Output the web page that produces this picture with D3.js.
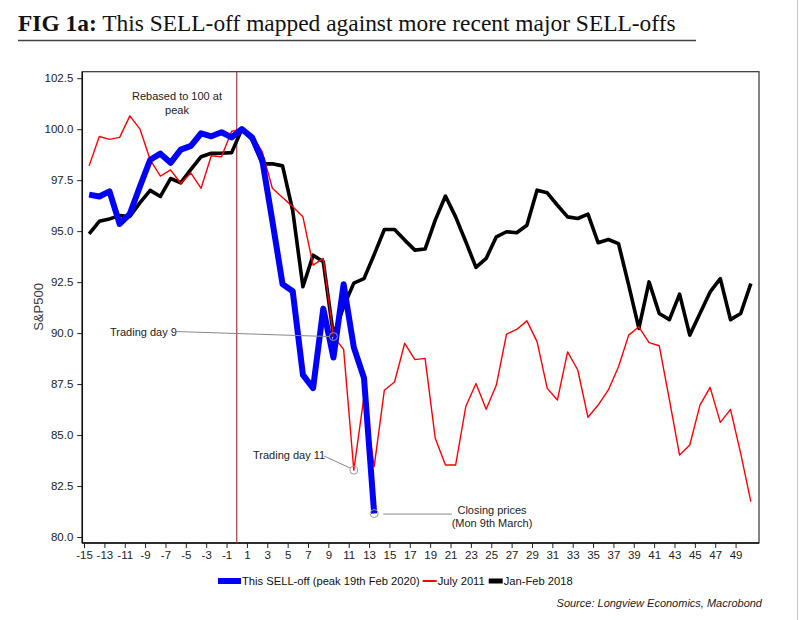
<!DOCTYPE html>
<html><head><meta charset="utf-8">
<script src="https://cdn.jsdelivr.net/npm/d3@7"></script>
<style>body{margin:0;background:#fff}</style>
</head><body><svg id="c" width="800" height="620"></svg>
<script>
// ---- data ----
const firstDay = -15;
const blueValues = [96.79,96.7,96.95,95.35,95.85,97.2,98.5,98.8,98.35,99.0,99.18,99.8,99.65,99.85,99.6,
  100.0,99.6,98.5,95.5,92.4,92.05,87.95,87.3,91.2,88.8,92.4,89.3,87.8,81.15];
const redValues = [98.2,99.64,99.5,99.6,100.65,100.0,98.5,97.7,98.0,97.35,97.85,97.1,98.7,98.65,99.9,
  100.0,99.7,98.9,97.1,96.65,96.2,95.7,93.33,93.66,89.83,89.2,83.28,86.9,83.45,87.2,87.6,89.5,88.7,88.76,
  84.84,83.53,83.53,86.4,87.53,86.26,87.45,89.95,90.18,90.6,89.58,87.29,86.72,89.08,88.19,85.87,86.47,
  87.21,88.35,89.9,90.31,89.53,89.38,86.72,84.02,84.51,86.47,87.34,85.62,86.26,84.1,81.73];
const blackValues = [94.87,95.48,95.6,95.76,95.72,96.4,97.0,96.7,97.58,97.37,98.03,98.65,98.82,98.82,98.85,
  100.0,99.5,98.3,98.3,98.2,96.0,92.27,93.82,93.5,89.9,91.3,92.45,92.67,93.85,95.08,95.08,94.56,94.07,94.12,
  95.54,96.72,95.7,94.48,93.22,93.66,94.72,94.97,94.92,95.29,97.01,96.88,96.27,95.7,95.62,95.83,94.43,
  94.59,94.39,92.35,90.23,92.51,90.96,90.66,91.91,89.9,90.96,92.02,92.67,90.66,90.96,92.43];
const xTickValues = [-15,-13,-11,-9,-7,-5,-3,-1,1,3,5,7,9,11,13,15,17,19,21,23,25,27,29,31,33,35,37,39,41,43,45,47,49];
const yTickValues = [80,82.5,85,87.5,90,92.5,95,97.5,100,102.5];
const seriesNames = ["This SELL-off (peak 19th Feb 2020)","July 2011","Jan-Feb 2018"];
const peakDay = 0;

// ---- layout ----
const svg = d3.select("#c");
const FONT = "Liberation Sans, Arial, Helvetica, sans-serif";
svg.append("rect").attr("width",800).attr("height",620).attr("fill","#fff");
svg.append("line").attr("x1",797.5).attr("x2",797.5).attr("y1",0).attr("y2",620).attr("stroke","#c8c8c8");

// title
const title = svg.append("text").attr("x",18).attr("y",31)
  .attr("font-family","Liberation Serif, DejaVu Serif, serif").attr("font-size",23).attr("fill","#111");
title.append("tspan").attr("font-weight","bold").text("FIG 1a:");
title.append("tspan").text(" This SELL-off mapped against more recent major SELL-offs");
const tl = title.node().getComputedTextLength();
title.attr("font-size", 23*658/tl);
svg.append("line").attr("x1",18).attr("x2",696).attr("y1",40.5).attr("y2",40.5)
  .attr("stroke","#444").attr("stroke-width",1.5);

const L=82.3, R=759, T=71.7, B=543;
const x = d3.scaleLinear().domain([-15.17,51.3]).range([L,R]);
const y = d3.scaleLinear().domain([80,102.5]).range([537,78.2]);
const shift = 0.5; // points drawn half a step right of tick

// axes
const ya = svg.append("g").attr("transform",`translate(${L},0)`)
  .call(d3.axisLeft(y).tickValues(yTickValues).tickFormat(d3.format(".1f")).tickSize(5).tickPadding(4).tickSizeOuter(0));
const xa = svg.append("g").attr("transform",`translate(0,${B})`)
  .call(d3.axisBottom(x).tickValues(xTickValues).tickFormat(d=>String(d)).tickSize(5).tickPadding(3).tickSizeOuter(0));
[ya,xa].forEach(g=>{
  g.select(".domain").remove();
  g.selectAll(".tick line").attr("stroke","#222");
  g.selectAll(".tick text").attr("font-family",FONT).attr("font-size",11.5).attr("fill","#222");
});

// frame
svg.append("rect").attr("x",L).attr("y",T).attr("width",R-L).attr("height",B-T)
  .attr("fill","none").attr("stroke","#333").attr("stroke-width",1.2);
svg.append("line").attr("x1",L).attr("x2",L).attr("y1",T).attr("y2",B).attr("stroke","#111").attr("stroke-width",1.5);
svg.append("line").attr("x1",L).attr("x2",R).attr("y1",B).attr("y2",B).attr("stroke","#111").attr("stroke-width",1.5);

// peak line
svg.append("line").attr("x1",x(peakDay)).attr("x2",x(peakDay)).attr("y1",T).attr("y2",B)
  .attr("stroke","#a83a3a").attr("stroke-width",1.2);

// y label
svg.append("text").attr("transform","translate(38,307) rotate(-90)").attr("text-anchor","middle")
  .attr("dominant-baseline","central").attr("font-family",FONT).attr("font-size",13).attr("fill","#3a3a48").text("S&P500");

// lines
const mk = vals => d3.line().x((v,i)=>x(firstDay+i+shift)).y(v=>y(v))(vals);
svg.append("path").attr("d",mk(blackValues)).attr("fill","none").attr("stroke","#000").attr("stroke-width",3.6).attr("stroke-linejoin","round");
svg.append("path").attr("d",mk(redValues)).attr("fill","none").attr("stroke","#f00").attr("stroke-width",1.4).attr("stroke-linejoin","round");
svg.append("path").attr("d",mk(blueValues)).attr("fill","none").attr("stroke","#0000ff").attr("stroke-width",6).attr("stroke-linejoin","round");

// annotations
const ann = (tx,ty,txt,anchor)=>svg.append("text").attr("x",tx).attr("y",ty).attr("text-anchor",anchor||"start")
  .attr("font-family",FONT).attr("font-size",11).attr("fill","#222").text(txt);
ann(177,100,"Rebased to 100 at","middle");
ann(177,114,"peak","middle");

const c9 = [x(9+shift), y(redValues[9-firstDay])];
const c11 = [x(11+shift), y(redValues[11-firstDay])];
const c13 = [x(13+shift), y(blueValues[13-firstDay])];
ann(110,335.5,"Trading day 9");
svg.append("line").attr("x1",175).attr("y1",331.5).attr("x2",c9[0]-4).attr("y2",c9[1]).attr("stroke","#888");
ann(253,459,"Trading day 11");
svg.append("line").attr("x1",324).attr("y1",456).attr("x2",c11[0]-3.5).attr("y2",c11[1]-2).attr("stroke","#888");
svg.append("line").attr("x1",c13[0]+9).attr("y1",c13[1]+0.5).attr("x2",452).attr("y2",c13[1]+0.5).attr("stroke","#888");
ann(492,514,"Closing prices","middle");
ann(492,527,"(Mon 9th March)","middle");
[c9,c11,c13].forEach(c=>svg.append("circle").attr("cx",c[0]).attr("cy",c[1]).attr("r",4)
  .attr("fill","none").attr("stroke","#999").attr("stroke-width",1));

// legend
const lg = svg.append("g").attr("font-family",FONT).attr("font-size",12).attr("fill","#111");
lg.append("rect").attr("x",218).attr("y",578).attr("width",23).attr("height",6).attr("fill","#0000ff");
const t0 = lg.append("text").attr("x",242).attr("y",585).text(seriesNames[0]);
const fs = 12*178/t0.node().getComputedTextLength();
lg.attr("font-size",fs);
let cx = 242 + t0.node().getComputedTextLength() + 3;
lg.append("rect").attr("x",cx).attr("y",580).attr("width",14).attr("height",2).attr("fill","#f00");
cx += 15;
const t1 = lg.append("text").attr("x",cx).attr("y",585).text(seriesNames[1]);
cx += t1.node().getComputedTextLength() + 4;
lg.append("rect").attr("x",cx).attr("y",578.5).attr("width",14).attr("height",5).attr("fill","#000");
cx += 15;
lg.append("text").attr("x",cx).attr("y",585).text(seriesNames[2]);

svg.append("text").attr("x",762).attr("y",607).attr("text-anchor","end").attr("font-family",FONT)
  .attr("font-style","italic").attr("font-size",11).attr("fill","#222").text("Source: Longview Economics, Macrobond");
</script></body></html>
